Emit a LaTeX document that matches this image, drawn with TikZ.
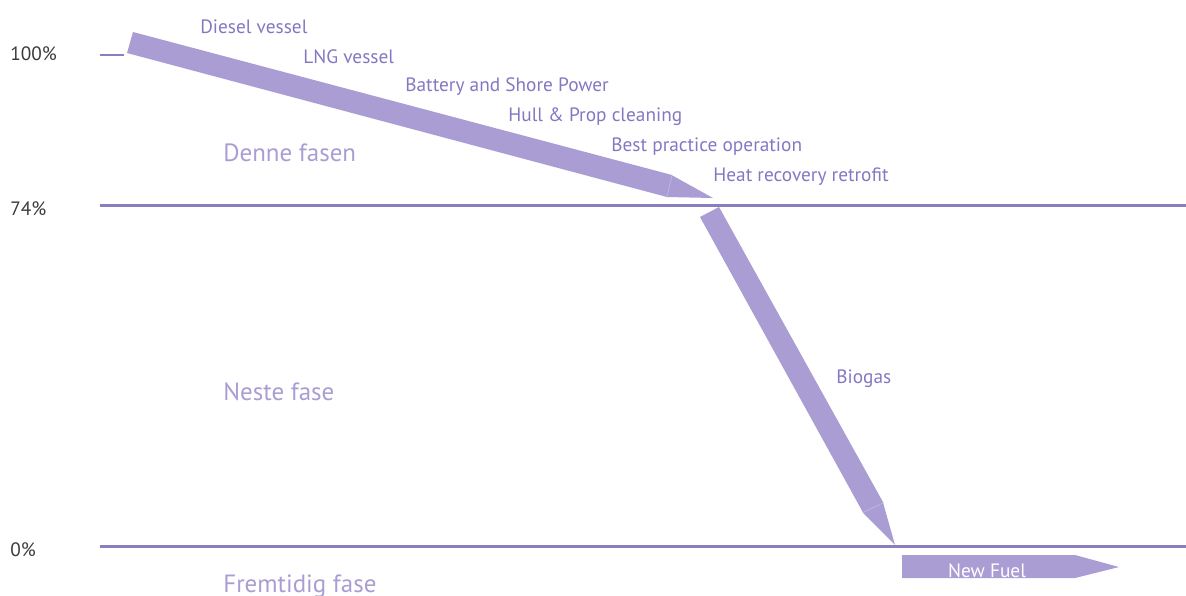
\documentclass[tikz,border=0pt]{standalone}
\usepackage{fontspec}
\setmainfont{PT Sans}
\definecolor{band}{HTML}{A99DD3}
\definecolor{axis}{HTML}{8B7EBE}
\definecolor{lab}{HTML}{8577C2}
\definecolor{phase}{HTML}{A99DD3}
\definecolor{pct}{HTML}{3A3A3A}
\begin{document}
\begin{tikzpicture}[x=0.02cm,y=-0.02cm,
  lvl/.style={draw=axis,line width=1.2pt},
  pctlab/.style={anchor=west,text=pct,font=\fontsize{11}{13}\selectfont,inner sep=0pt},
  steplab/.style={anchor=west,text=lab,font=\fontsize{11}{13}\selectfont,inner sep=0pt},
  phaselab/.style={anchor=west,text=phase,font=\fontsize{14.2}{17}\selectfont,inner sep=0pt},
  bandfill/.style={fill=band,draw=none},
  seam/.style={draw=white,opacity=0.35,line width=0.3pt}]
\clip (0,0) rectangle (1186,595);
\useasboundingbox (0,0) rectangle (1186,595);
% level lines
\coordinate (s0) at (100,55); \coordinate (s1) at (124,55);
\draw[lvl] (s0) -- (s1);
\coordinate (l74a) at (100,205.5); \coordinate (l74b) at (1186,205.5);
\draw[lvl] (l74a) -- (l74b);
\coordinate (l0a) at (100,546.5); \coordinate (l0b) at (1186,546.5);
\draw[lvl] (l0a) -- (l0b);
% percent labels
\node[pctlab] (p100) at (10,54) {100\%};
\node[pctlab] (p74) at (10,209) {74\%};
\node[pctlab] (p0) at (10,550) {0\%};
% first band
\fill[bandfill] (133,32) -- (672,175) -- (667,197) -- (127,53) -- cycle;
\fill[bandfill] (671.5,175) -- (713,198) -- (666.5,197) -- cycle;
\draw[seam] (672,175) -- (667,197);
% second band
\fill[bandfill] (700,217) -- (719,207) -- (883.5,503) -- (863,512.5) -- cycle;
\fill[bandfill] (883,502.5) -- (895,545) -- (862.5,512.5) -- cycle;
\draw[seam] (883,503) -- (863,512.5);
% new fuel arrow
\fill[bandfill] (902,555) -- (1075,555) -- (1119,567) -- (1075,578) -- (902,578) -- cycle;
\node[text=white,font=\fontsize{11}{13}\selectfont,inner sep=0pt] (nf) at (987,571) {New Fuel};
% step labels
\node[steplab] (d1) at (200,27) {Diesel vessel};
\node[steplab] (d2) at (303,57) {LNG vessel};
\node[steplab] (d3) at (405,87) {Battery and Shore Power};
\node[steplab] (d4) at (508,117) {Hull \& Prop cleaning};
\node[steplab] (d5) at (611,147) {Best practice operation};
\node[steplab] (d6) at (713,177) {Heat recovery retrofit};
\node[steplab] (d7) at (836,379) {Biogas};
% phase labels
\node[phaselab] (f1) at (223,153) {Denne fasen};
\node[phaselab] (f2) at (223,392) {Neste fase};
\node[phaselab] (f3) at (223,586) {Fremtidig fase};
\end{tikzpicture}
\end{document}
